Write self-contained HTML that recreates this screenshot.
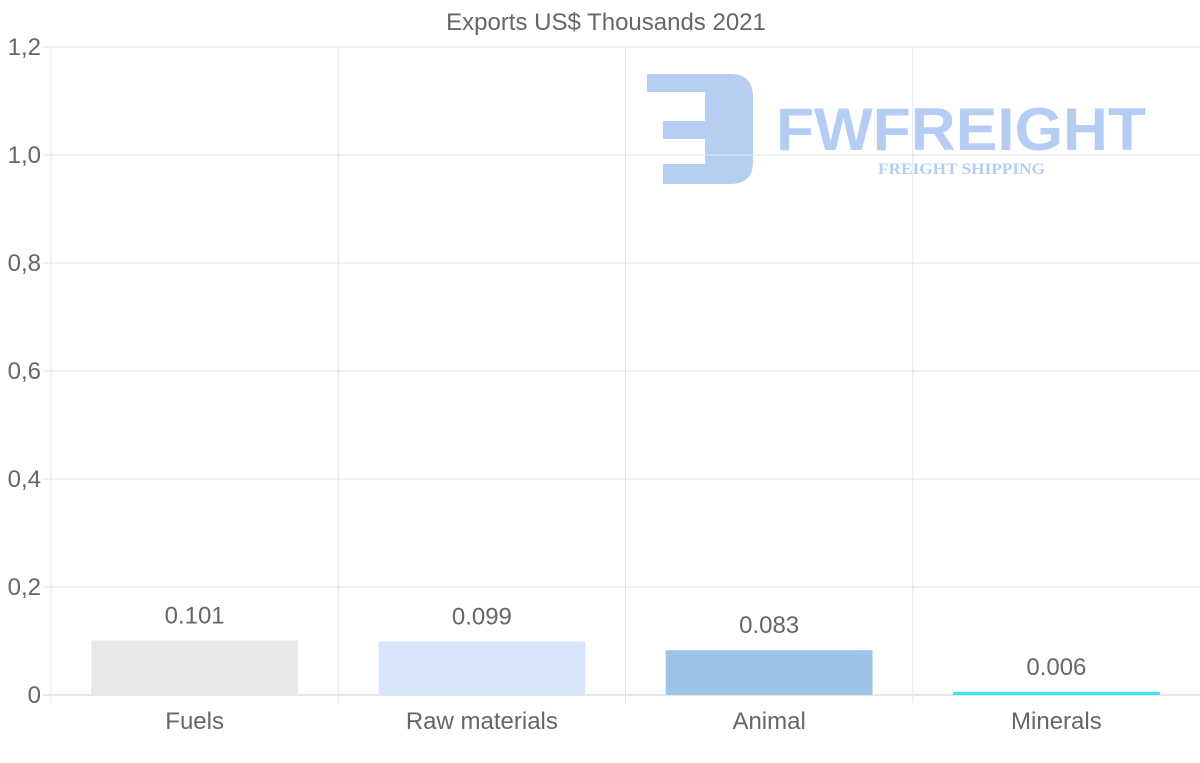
<!DOCTYPE html>
<html><head><meta charset="utf-8"><style>
html,body{margin:0;padding:0;background:#fff;}
svg{display:block;font-family:"Liberation Sans",sans-serif;}
</style></head><body>
<svg id="chart" width="1200" height="763" viewBox="0 0 1200 763">
  <text x="606" y="30" text-anchor="middle" font-size="24" fill="#666">Exports US$ Thousands 2021</text>
  <g opacity="0.85">
    <path d="M647 74 H730 Q753 74 753 97 V162 Q753 184 730 184 H663 V164 H705 V139 H663 V121 H705 V92 H647 Z" fill="#a9c5f0"/>
    <text x="776" y="150" font-size="60" font-weight="bold" fill="#a9c5f0" textLength="370" lengthAdjust="spacingAndGlyphs">FWFREIGHT</text>
    <text x="878" y="174" font-size="16" font-weight="bold" font-family="Liberation Serif,serif" fill="#a9c5f0" textLength="167" lengthAdjust="spacingAndGlyphs">FREIGHT SHIPPING</text>
  </g>
  <g id="grid"></g>
  <g id="bars"></g>
  <g id="labels"></g>
</svg>
<script>
const categories = ["Fuels","Raw materials","Animal","Minerals"];
const values = [0.101,0.099,0.083,0.006];
const valueLabels = ["0.101","0.099","0.083","0.006"];
const colors = ["#e8e8e8","#d6e6f8","#9cc4e8","#3ee6f0"];
const yTicks = [0,0.2,0.4,0.6,0.8,1.0,1.2];
const yTickLabels = ["0","0,2","0,4","0,6","0,8","1,0","1,2"];

const L=51,R=1200,T=47,B=695,yMax=1.2;
const y=v=>B-(v/yMax)*(B-T);
const cw=(R-L)/categories.length;
const x=i=>L+i*cw;
const NS="http://www.w3.org/2000/svg";
function mk(tag,attrs,parent){const e=document.createElementNS(NS,tag);for(const k in attrs)e.setAttribute(k,attrs[k]);parent.appendChild(e);return e;}
const grid=document.getElementById('grid'),bars=document.getElementById('bars'),labels=document.getElementById('labels');
yTicks.forEach((t,i)=>{
  const ln=mk('line',{x1:L-8,x2:R,y1:y(t),y2:y(t),stroke:t===0?'#ccc':'#e5e5e5','stroke-width':1},grid);
  
  
  const tx=mk('text',{x:L-10,y:y(t)+8,'text-anchor':'end','font-size':24,fill:'#666'},labels);
  tx.textContent=yTickLabels[i];
  
  
});
const yl=mk('line',{x1:L,x2:L,y1:T,y2:B+8,stroke:'#e5e5e5'},grid);


categories.forEach((c,i)=>{
  if(i>0){const g=mk('line',{x1:x(i),x2:x(i),y1:T,y2:B+8,stroke:'#e5e5e5'},grid);
    
    }
  const bw=cw*0.72, bx=x(i)+(cw-bw)/2;
  const r=mk('rect',{x:bx,y:y(values[i]),width:bw,height:B-y(values[i]),fill:colors[i]},bars);
  
  
  const vl=mk('text',{x:x(i)+cw/2,y:y(values[i])-17,'text-anchor':'middle','font-size':24,fill:'#666'},labels);
  vl.textContent=valueLabels[i];
  
  
  const xl=mk('text',{x:x(i)+cw/2,y:729,'text-anchor':'middle','font-size':24,fill:'#666'},labels);
  xl.textContent=c;
  
  
});
</script>
</body></html>
